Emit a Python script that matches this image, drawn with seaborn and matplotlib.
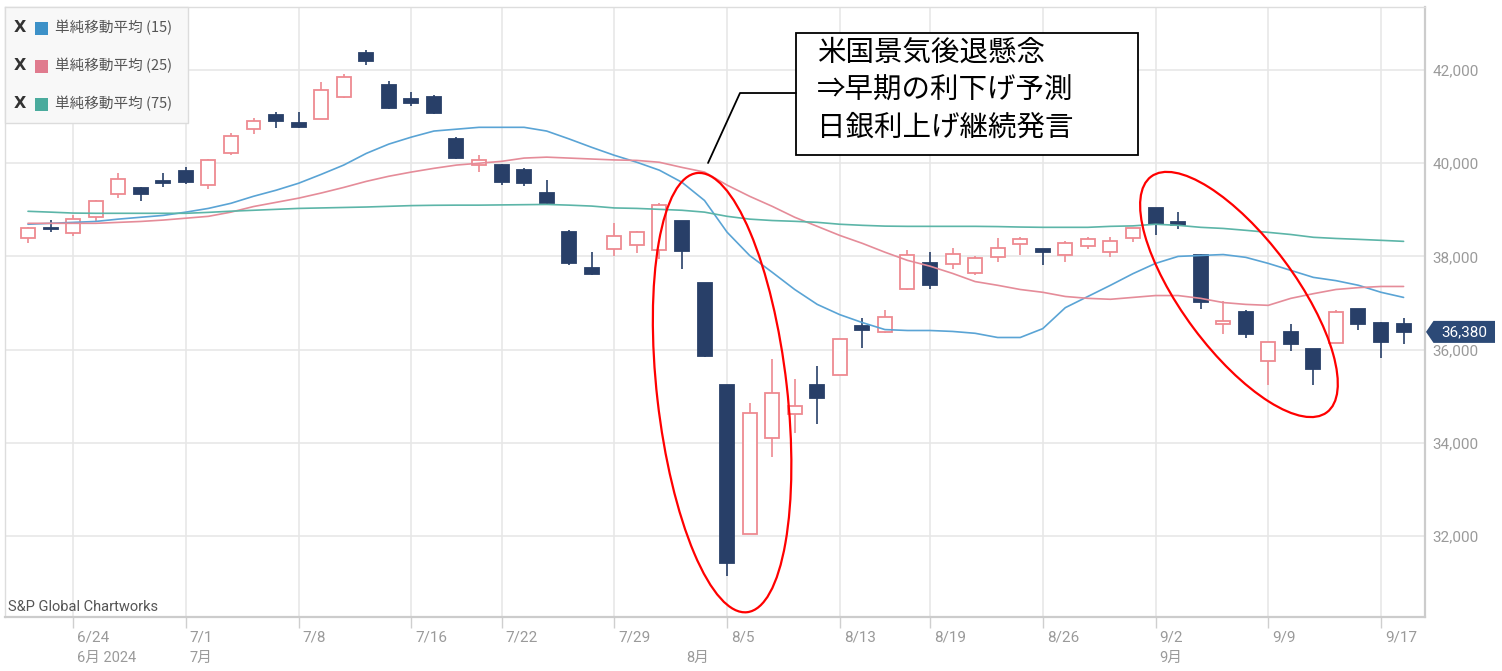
import numpy as np
import pandas as pd
import matplotlib
matplotlib.use("Agg")
import matplotlib.pyplot as plt
import seaborn as sns
from matplotlib.patches import Rectangle, Ellipse, Polygon
from matplotlib.transforms import ScaledTranslation, blended_transform_factory

# ---------------- data ----------------
dates = ["6/20", "6/21", "6/24", "6/25", "6/26", "6/27", "6/28",
         "7/1", "7/2", "7/3", "7/4", "7/5", "7/8", "7/9", "7/10", "7/11", "7/12",
         "7/16", "7/17", "7/18", "7/19", "7/22", "7/23", "7/24", "7/25", "7/26",
         "7/29", "7/30", "7/31", "8/1", "8/2", "8/5", "8/6", "8/7", "8/8", "8/9",
         "8/13", "8/14", "8/15", "8/16", "8/19", "8/20", "8/21", "8/22", "8/23",
         "8/26", "8/27", "8/28", "8/29", "8/30", "9/2", "9/3", "9/4", "9/5", "9/6",
         "9/9", "9/10", "9/11", "9/12", "9/13", "9/17", "9/18"]

open_ = [38390, 38610, 38500, 38840, 39330, 39460, 39590, 39830, 39530, 40210,
         40730, 41030, 40860, 40950, 41420, 42360, 41680, 41380, 41420, 40520,
         39960, 39960, 39850, 39350, 38520, 37760, 38150, 38240, 38130, 38750,
         37420, 35230, 32040, 34110, 34620, 35230, 35460, 36500, 36370, 37290,
         37850, 37830, 37640, 37980, 38260, 38150, 38040, 38220, 38090, 38390,
         39030, 38730, 38020, 36540, 36800, 35760, 36370, 36020, 36150, 36880,
         36580, 36540]
high = [38640, 38780, 38880, 39220, 39790, 39480, 39780, 39920, 40080, 40650,
        40970, 41100, 41100, 41750, 41910, 42430, 41760, 41530, 41460, 40560,
        40170, 39990, 39890, 39630, 38560, 38090, 38710, 38540, 39140, 38760,
        37440, 35250, 34860, 35800, 35360, 35640, 36230, 36670, 36860, 38130,
        38090, 38190, 38000, 38390, 38410, 38150, 38340, 38410, 38410, 38620,
        39040, 38950, 38060, 37050, 36860, 36170, 36540, 36020, 36860, 36880,
        36600, 36670]
low = [38280, 38520, 38430, 38750, 39250, 39180, 39480, 39560, 39440, 40170,
       40620, 40750, 40760, 40940, 41400, 42110, 41170, 41220, 41060, 40090,
       39810, 39530, 39510, 39120, 37810, 37610, 38000, 38070, 37940, 37740,
       35850, 31140, 32040, 33700, 34200, 34410, 35450, 36040, 36360, 37280,
       37290, 37740, 37610, 37870, 38040, 37810, 37890, 38150, 37980, 38300,
       38450, 38580, 36880, 36340, 36240, 35230, 35980, 35230, 36150, 36430,
       35830, 36130]
close = [38620, 38590, 38800, 39180, 39660, 39330, 39583, 39600, 40060, 40580,
         40900, 40900, 40780, 41570, 41850, 42190, 41180, 41290, 41080, 40110,
         40060, 39600, 39580, 39150, 37860, 37630, 38430, 38520, 39100, 38110,
         35870, 31420, 34650, 35060, 34780, 34970, 36220, 36430, 36690, 38040,
         37380, 38060, 37960, 38190, 38370, 38090, 38280, 38370, 38340, 38620,
         38690, 38670, 37030, 36620, 36340, 36170, 36110, 35590, 36800, 36560,
         36170, 36380]

ma15 = [38690, 38710, 38730, 38750, 38800, 38840, 38880, 38950, 39030, 39140,
        39290, 39420, 39570, 39760, 39960, 40210, 40410, 40560, 40690, 40730,
        40770, 40770, 40770, 40690, 40520, 40340, 40170, 40020, 39850, 39590,
        39200, 38520, 38020, 37660, 37290, 36970, 36750, 36580, 36430, 36410,
        36410, 36390, 36350, 36260, 36260, 36450, 36900, 37140, 37380, 37630,
        37850, 38000, 38020, 38040, 37980, 37850, 37700, 37550, 37480, 37380,
        37230, 37120]
ma25 = [38710, 38710, 38710, 38710, 38730, 38750, 38780, 38820, 38860, 38950,
        39070, 39160, 39250, 39360, 39480, 39610, 39720, 39810, 39890, 39960,
        40000, 40040, 40110, 40130, 40110, 40090, 40070, 40060, 40020, 39910,
        39810, 39530, 39290, 39075, 38840, 38645, 38450, 38280, 38090, 37915,
        37790, 37635, 37460, 37380, 37290, 37230, 37140, 37100, 37080, 37120,
        37160, 37160, 37100, 37010, 36970, 36950, 37100, 37200, 37290, 37330,
        37355, 37355]
ma75 = [38968, 38950, 38930, 38925, 38925, 38925, 38925, 38925, 38945, 38970,
        38990, 39010, 39030, 39040, 39050, 39060, 39075, 39090, 39097, 39100,
        39100, 39105, 39110, 39115, 39100, 39080, 39040, 39030, 39010, 38990,
        38950, 38860, 38800, 38770, 38753, 38731, 38690, 38667, 38650, 38645,
        38645, 38645, 38645, 38640, 38630, 38624, 38624, 38624, 38645, 38655,
        38690, 38667, 38624, 38600, 38560, 38516, 38470, 38410, 38385, 38366,
        38345, 38323]

legend_labels = ["単純移動平均 (15)", "単純移動平均 (25)", "単純移動平均 (75)"]
x_tick_dates = ["6/24", "7/1", "7/8", "7/16", "7/22", "7/29", "8/5", "8/13",
                "8/19", "8/26", "9/2", "9/9", "9/17"]
month_labels = ["6月 2024", "7月", "8月", "9月"]
month_first_dates = ["6/24", "7/1", "8/1", "9/2"]
y_ticks = [32000, 34000, 36000, 38000, 40000, 42000]
y_tick_labels = ["32,000", "34,000", "36,000", "38,000", "40,000", "42,000"]
last_price = 36380
last_price_label = "36,380"
annotation_lines = ["米国景気後退懸念", "⇒早期の利下げ予測", "日銀利上げ継続発言"]
source_text = "S&P Global Chartworks"

# ---------------- style ----------------
sns.set_theme(style="white")
plt.rcParams['font.family'] = ['Roboto', 'Noto Sans CJK JP', 'DejaVu Sans']
CJK = ['Noto Sans CJK JP', 'DejaVu Sans']

UP_EDGE = "#ee8a91"
DOWN = "#283f68"
C15, C25, C75 = "#5aa4d5", "#e58c99", "#5cb5a8"
L15, L25, L75 = "#3d91c8", "#e07b8e", "#4aab9d"
GRID = "#e6e6e6"
TICKC = "#9a9a9a"

W, H = 1502, 671
fig = plt.figure(figsize=(W / 100, H / 100), dpi=100)
ax = fig.add_axes([5 / W, 54 / H, 1420 / W, 610 / H])
ax.set_facecolor("white")

idx = np.arange(len(dates))
o = np.array(open_, float); c = np.array(close, float)
hi = np.array(high, float); lo = np.array(low, float)
up = c >= o
edge_cols = np.where(up, UP_EDGE, DOWN)
face_cols = np.where(up, "white", DOWN)

# wicks then bodies
ax.vlines(idx, lo, hi, colors=edge_cols, linewidth=1.2, zorder=3)
body_bottom = np.minimum(o, c)
body_h = np.maximum(np.abs(c - o), 25)
ax.bar(idx, body_h, bottom=body_bottom, width=0.62, color=face_cols,
       edgecolor=edge_cols, linewidth=1.3, zorder=3.5)

# moving averages through seaborn
ma_df = pd.DataFrame({
    "idx": np.concatenate([idx, idx, idx]),
    "value": ma15 + ma25 + ma75,
    "series": [legend_labels[0]] * len(idx) + [legend_labels[1]] * len(idx)
              + [legend_labels[2]] * len(idx),
})
sns.lineplot(data=ma_df, x="idx", y="value", hue="series",
             palette={legend_labels[0]: C15, legend_labels[1]: C25,
                      legend_labels[2]: C75},
             legend=False, ax=ax, linewidth=1.2, zorder=4, estimator=None)

# axes ranges
ax.set_xlim(-1.02, 61.95)
ax.set_ylim(30262, 43352)
ax.set_xlabel("")
ax.set_ylabel("")

# y axis on the right
ax.yaxis.tick_right()
ax.set_yticks(y_ticks)
ax.set_yticklabels(y_tick_labels)
ax.tick_params(axis="y", length=0, pad=5.5, labelsize=11, labelcolor=TICKC)

# x ticks
xt = [dates.index(d) for d in x_tick_dates]
ax.set_xticks(xt)
ax.set_xticklabels(x_tick_dates, ha="left")
ax.tick_params(axis="x", length=8, width=1, color="#cfcfcf", pad=1.5,
               labelsize=11, labelcolor=TICKC, bottom=True)
off = ScaledTranslation(4 / 100, 0, fig.dpi_scale_trans)
for lb in ax.get_xticklabels():
    lb.set_transform(lb.get_transform() + off)

ax.grid(True, axis="both", color=GRID, linewidth=1.1, zorder=0)
ax.set_axisbelow(True)

for side in ["left", "top"]:
    ax.spines[side].set_color("#dddddd"); ax.spines[side].set_linewidth(1)
for side in ["right", "bottom"]:
    ax.spines[side].set_color("#cccccc"); ax.spines[side].set_linewidth(1.6)

# month row
bt = blended_transform_factory(ax.transData, ax.transAxes)
for lab, d in zip(month_labels, month_first_dates):
    ax.text(dates.index(d), -0.0672, lab, transform=bt + off, ha="left",
            va="center", fontsize=10.5, color=TICKC, family=['Roboto'] + CJK)

# legend box
ax.add_patch(Rectangle((0, 0.810), 0.1289, 0.19, transform=ax.transAxes,
                       facecolor="#f8f8f8", edgecolor="#dcdcdc", linewidth=1,
                       zorder=6, clip_on=False))
for k, (lab, col) in enumerate(zip(legend_labels, [L15, L25, L75])):
    yy = [0.9656, 0.9033, 0.841][k]
    ax.text(0.0106, yy, "X", transform=ax.transAxes, ha="center", va="center",
            fontsize=11.5, fontweight="bold", color="#333333", zorder=7,
            family=['DejaVu Sans'])
    ax.add_patch(Rectangle((0.0211, yy - 0.0107), 0.0092, 0.0213,
                           transform=ax.transAxes, facecolor=col,
                           edgecolor="none", zorder=7))
    ax.text(0.0352, yy, lab, transform=ax.transAxes, ha="left", va="center",
            fontsize=10.5, color="#555555", zorder=7, family=CJK)

# annotation box with leader line
ax.add_patch(Rectangle((0.5570, 0.7574), 0.2409, 0.2000, transform=ax.transAxes,
                       facecolor="white", edgecolor="black", linewidth=1.3,
                       zorder=8))
for t, yy in zip(annotation_lines, [0.9246, 0.8623, 0.8016]):
    ax.text(0.5718, yy, t, transform=ax.transAxes, ha="left", va="center",
            fontsize=20.5, color="black", zorder=9, family=CJK)
ax.plot([0.4951, 0.5176, 0.5570], [0.7443, 0.8590, 0.8590],
        transform=ax.transAxes, color="black", linewidth=1.3, zorder=8)

# red ellipses (size in inches, centre in data)
for cx, cy, w, h, ang in [(30.78, 35077, 4.42, 1.30, -83.5),
                          (53.70, 37183, 2.94, 1.13, -53.3)]:
    tr = fig.dpi_scale_trans + ScaledTranslation(cx, cy, ax.transData)
    ax.add_patch(Ellipse((0, 0), w, h, angle=ang, transform=tr, fill=False,
                         edgecolor="#ff0000", linewidth=1.6, zorder=10,
                         clip_on=False))

# source text
ax.text(0.0021, 0.0164, source_text, transform=ax.transAxes, ha="left",
        va="center", fontsize=10.5, color="#555555", zorder=6)

# last price tag
bty = blended_transform_factory(ax.transAxes, ax.transData)
hh = 11 * (43352 - 30262) / 610
tag = Polygon([(1.0007, last_price), (1.0060, last_price + hh),
               (1.0493, last_price + hh), (1.0493, last_price - hh),
               (1.0060, last_price - hh)], closed=True, transform=bty,
              facecolor="#2c4a77", edgecolor="none", zorder=20, clip_on=False)
ax.add_patch(tag)
ax.text(1.0280, last_price, last_price_label, transform=bty, ha="center",
        va="center", fontsize=11, color="white", zorder=21, clip_on=False)

fig.savefig("out.png", dpi=100, facecolor="white")
